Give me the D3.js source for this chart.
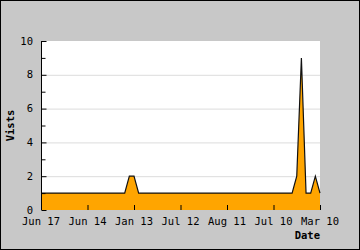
<!DOCTYPE html>
<html><head><meta charset="utf-8">
<script src="https://cdn.jsdelivr.net/npm/d3@7"></script>
<style>body{margin:0;background:#fff}svg{display:block}</style>
</head><body>
<script>
// Data (61 points, index-based x)
const visits = [1,1,1,1,1,1,1,1,1,1, 1,1,1,1,1,1,1,1,1,2, 2,1,1,1,1,1,1,1,1,1,
                1,1,1,1,1,1,1,1,1,1, 1,1,1,1,1,1,1,1,1,1, 1,1,1,1,1,2,9,1,1,2, 1];
const tickIndex = [0,10,20,30,40,50,60];
const tickLabels = ["Jun 17","Jun 14","Jan 13","Jul 12","Aug 11","Jul 10","Mar 10"];
const yTicks = [0,2,4,6,8,10];
const yLabel = "Vists", xLabel = "Date";

const W = 360, H = 250;
const L = 41, R = 320, T = 41, B = 210;
const font = "'DejaVu Sans Mono', monospace";

const svg = d3.select("body").append("svg").attr("width", W).attr("height", H);
svg.append("rect").attr("x",0.5).attr("y",0.5).attr("width",W-1).attr("height",H-1)
  .attr("fill","#c8c8c8").attr("stroke","#000").attr("stroke-width",1);
svg.append("rect").attr("x",L).attr("y",T).attr("width",R-L).attr("height",B-T).attr("fill","#fff");

const x = d3.scaleLinear().domain([0, visits.length-1]).range([L, R]);
const y = d3.scaleLinear().domain([0,10]).range([B, T]);

// gridlines
svg.append("g").selectAll("line").data([2,4,6,8]).join("line")
  .attr("x1",L).attr("x2",R).attr("y1",d=>y(d)+0.5).attr("y2",d=>y(d)+0.5)
  .attr("stroke","#dcdcdc").attr("stroke-width",1);

// area
const area = d3.area().x((d,i)=>x(i)).y0(y(0)).y1(d=>y(d));
svg.append("path").datum(visits).attr("d",area).attr("fill","#ffa500");
const line = d3.line().x((d,i)=>x(i)).y(d=>y(d));
svg.append("path").datum(visits).attr("d",line).attr("fill","none")
  .attr("stroke","#111").attr("stroke-width",1.2);

// y axis
const yAxis = d3.axisRight(y).tickValues(d3.range(0,11,1)).tickSize(4)
  .tickFormat(()=>"");
const gy = svg.append("g").attr("transform",`translate(${L+0.5},0)`).call(yAxis);
gy.select(".domain").attr("d",`M0,${T}V${B}`).attr("stroke","#000");
gy.selectAll(".tick line").attr("x2",d=>d%2===0?5:4).attr("stroke","#000");
svg.append("g").selectAll("text").data(yTicks).join("text")
  .attr("x",33).attr("y",d=>y(d)).attr("dy","0.35em").attr("text-anchor","end")
  .attr("font-family",font).attr("font-size",10.5).attr("fill","#000").text(d=>d);

// x axis
const xAxis = d3.axisTop(x).tickValues(tickIndex).tickSize(5).tickFormat(()=>"");
const gx = svg.append("g").attr("transform",`translate(0,${B})`).call(xAxis);
gx.select(".domain").remove();
gx.selectAll(".tick line").attr("stroke","#000");
svg.append("g").selectAll("text").data(tickIndex).join("text")
  .attr("x",d=>x(d)).attr("y",225).attr("text-anchor","middle")
  .attr("font-family",font).attr("font-size",10.5).attr("fill","#000")
  .text((d,i)=>tickLabels[i]);

svg.append("text").attr("x",R).attr("y",239).attr("text-anchor","end")
  .attr("font-family",font).attr("font-size",10.5).attr("font-weight","bold").text(xLabel);
svg.append("text").attr("transform",`translate(14,${(T+B)/2}) rotate(-90)`)
  .attr("text-anchor","middle").attr("font-family",font).attr("font-size",10.5)
  .attr("font-weight","bold").text(yLabel);
</script>
</body></html>
